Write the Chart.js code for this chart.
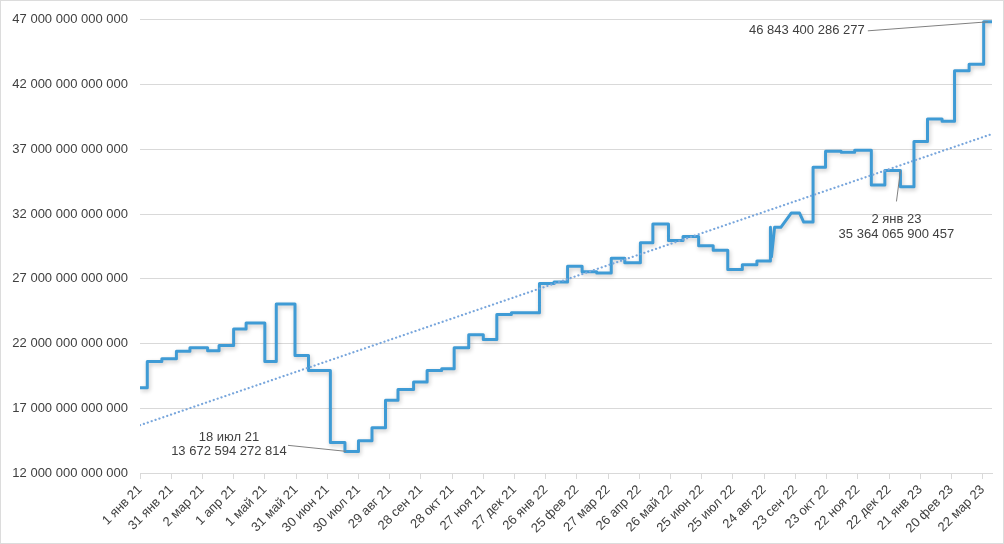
<!DOCTYPE html>
<html lang="ru">
<head>
<meta charset="utf-8">
<script src="https://cdn.jsdelivr.net/npm/chart.js@4/dist/chart.umd.min.js"></script>
<style>
  html, body { margin: 0; padding: 0; background: #fff; }
  #wrap { position: relative; width: 1004px; height: 544px; }
  #frame { position: absolute; left: 0; top: 0; right: 0; bottom: 0; border: 1px solid #dcdcdc; pointer-events: none; }
</style>
</head>
<body>
<div id="wrap">
  <canvas id="chart" width="1004" height="544"></canvas>
  <div id="frame"></div>
</div>
<script>
// x tick labels, one every 30 days from 1 Jan 2021
const tickLabels = [
    "1 янв 21", "31 янв 21", "2 мар 21", "1 апр 21", "1 май 21", "31 май 21", "30 июн 21",
    "30 июл 21", "29 авг 21", "28 сен 21", "28 окт 21", "27 ноя 21", "27 дек 21", "26 янв 22",
    "25 фев 22", "27 мар 22", "26 апр 22", "26 май 22", "25 июн 22", "25 июл 22", "24 авг 22",
    "23 сен 22", "23 окт 22", "22 ноя 22", "22 дек 22", "21 янв 23", "20 фев 23", "22 мар 23"
];

// each level of the series: first day, last day, value
const levelStart = [
    "2021-01-01", "2021-01-08", "2021-01-22", "2021-02-05", "2021-02-18", "2021-03-07", "2021-03-18",
    "2021-04-01", "2021-04-13", "2021-05-01", "2021-05-12", "2021-05-30", "2021-06-12", "2021-07-03",
    "2021-07-17", "2021-07-30", "2021-08-12", "2021-08-25", "2021-09-06", "2021-09-21", "2021-10-04",
    "2021-10-18", "2021-10-30", "2021-11-13", "2021-11-27", "2021-12-10", "2021-12-24", "2022-01-20",
    "2022-02-03", "2022-02-16", "2022-03-02", "2022-03-16", "2022-03-30", "2022-04-12", "2022-04-27",
    "2022-05-09", "2022-05-24", "2022-06-07", "2022-06-22", "2022-07-06", "2022-07-20", "2022-08-03",
    "2022-08-17", "2022-08-30", "2022-08-31", "2022-09-03", "2022-09-19", "2022-10-01", "2022-10-10",
    "2022-10-22", "2022-11-06", "2022-11-19", "2022-12-05", "2022-12-18", "2023-01-02", "2023-01-15",
    "2023-01-28", "2023-02-11", "2023-02-23", "2023-03-09", "2023-03-23"
];
const levelEnd = [
    "2021-01-08", "2021-01-22", "2021-02-05", "2021-02-18", "2021-03-07", "2021-03-18", "2021-04-01",
    "2021-04-13", "2021-05-01", "2021-05-12", "2021-05-30", "2021-06-12", "2021-07-03", "2021-07-17",
    "2021-07-30", "2021-08-12", "2021-08-25", "2021-09-06", "2021-09-21", "2021-10-04", "2021-10-18",
    "2021-10-30", "2021-11-13", "2021-11-27", "2021-12-10", "2021-12-24", "2022-01-20", "2022-02-03",
    "2022-02-16", "2022-03-02", "2022-03-16", "2022-03-30", "2022-04-12", "2022-04-27", "2022-05-09",
    "2022-05-24", "2022-06-07", "2022-06-22", "2022-07-06", "2022-07-20", "2022-08-03", "2022-08-17",
    "2022-08-30", "2022-08-30", "2022-08-31", "2022-09-09", "2022-09-27", "2022-10-10", "2022-10-22",
    "2022-11-06", "2022-11-19", "2022-12-05", "2022-12-18", "2023-01-02", "2023-01-15", "2023-01-28",
    "2023-02-11", "2023-02-23", "2023-03-09", "2023-03-23", "2023-03-31"
];
const levelValue = [
    18.59e12, 20.62e12, 20.82e12, 21.41e12, 21.67e12, 21.44e12, 21.85e12,
    23.13e12, 23.59e12, 20.62e12, 25.05e12, 21.08e12, 19.92e12, 14.36e12,
    13.67e12, 14.50e12, 15.50e12, 17.62e12, 18.44e12, 19.03e12, 19.92e12,
    20.05e12, 21.67e12, 22.67e12, 22.31e12, 24.25e12, 24.37e12, 26.64e12,
    26.75e12, 27.97e12, 27.55e12, 27.45e12, 28.59e12, 28.24e12, 29.79e12,
    31.23e12, 29.95e12, 30.27e12, 29.55e12, 29.20e12, 27.72e12, 28.08e12,
    28.38e12, 30.97e12, 28.70e12, 30.97e12, 32.07e12, 31.38e12, 35.62e12,
    36.84e12, 36.77e12, 36.93e12, 34.25e12, 35.36e12, 34.10e12, 37.60e12,
    39.33e12, 39.17e12, 43.06e12, 43.57e12, 46.84e12
];

// linear trend line end points
const trendDates = ["2021-01-01", "2023-03-31"];
const trendValues = [15.69e12, 38.18e12];

// labelled points
const noteDates = ["2021-07-18", "2023-01-02", "2023-03-27"];
const noteValues = [13672594272814, 35364065900457, 46843400286277];
const noteTexts = [["18 июл 21", "13 672 594 272 814"], ["2 янв 23", "35 364 065 900 457"], ["46 843 400 286 277"]];

const t0 = Date.UTC(2021, 0, 1);
function dayOf(s) {
    return (Date.parse(s) - t0) / 864e5;
}
function spaced(v) {
    return String(Math.round(v)).replace(/\B(?=(\d{3})+(?!\d))/g, " ");
}

const linePoints = [];
levelStart.forEach((s, i) => {
    linePoints.push({ x: dayOf(s), y: levelValue[i] });
    if (levelEnd[i] !== s) linePoints.push({ x: dayOf(levelEnd[i]), y: levelValue[i] });
});
const trendPoints = trendDates.map((d, i) => ({ x: dayOf(d), y: trendValues[i] }));

const FONT = "'Liberation Sans', Arial, sans-serif";
const TEXT = "#404040";
const GRID = "#d9d9d9";

const shadowPlugin = {
    id: "lineShadow",
    beforeDatasetDraw(chart, args) {
        if (args.index !== 1) return;
        const ctx = chart.ctx;
        ctx.save();
        ctx.shadowColor = "rgba(0,0,0,0.22)";
        ctx.shadowBlur = 4;
        ctx.shadowOffsetX = 1;
        ctx.shadowOffsetY = 2;
    },
    afterDatasetDraw(chart, args) {
        if (args.index !== 1) return;
        chart.ctx.restore();
    }
};

// label offsets from the point, in px: text centre, first line y, leader start
const noteLayout = [
    { tx: -117, ty: -14, lx: -58, ly: -6 },
    { tx: -4, ty: 49, lx: -4, ly: 31 },
    { tx: -181, ty: 9, lx: -120, ly: 9 }
];

const notePlugin = {
    id: "notes",
    afterDatasetsDraw(chart) {
        const ctx = chart.ctx;
        const xs = chart.scales.x, ys = chart.scales.y;
        ctx.save();
        ctx.font = "13px " + FONT;
        ctx.fillStyle = TEXT;
        ctx.textAlign = "center";
        ctx.textBaseline = "middle";
        noteDates.forEach((d, i) => {
            const px = xs.getPixelForValue(dayOf(d));
            const py = ys.getPixelForValue(noteValues[i]);
            const L = noteLayout[i];
            ctx.strokeStyle = "#808080";
            ctx.lineWidth = 1;
            ctx.beginPath();
            ctx.moveTo(px + L.lx, py + L.ly);
            ctx.lineTo(px, py);
            ctx.stroke();
            noteTexts[i].forEach((t, k) => {
                ctx.fillText(t, px + L.tx, py + L.ty + k * 14.5);
            });
        });
        ctx.restore();
    }
};

new Chart(document.getElementById("chart"), {
    type: "line",
    data: {
        datasets: [
            {
                label: "Тренд",
                data: trendPoints,
                borderColor: "#78a6dc",
                borderWidth: 2.2,
                borderDash: [0.1, 4],
                borderCapStyle: "round",
                pointRadius: 0,
                fill: false
            },
            {
                label: "Сложность",
                data: linePoints,
                borderColor: "#3f9bd5",
                borderWidth: 3,
                borderJoinStyle: "round",
                pointRadius: 0,
                tension: 0,
                fill: false
            }
        ]
    },
    options: {
        responsive: false,
        animation: false,
        devicePixelRatio: 1,
        layout: { padding: { left: 0, right: 12, top: 18, bottom: 0 } },
        plugins: {
            legend: { display: false },
            tooltip: { enabled: false }
        },
        scales: {
            x: {
                type: "linear",
                min: 0,
                max: 819,
                afterFit(scale) { scale.height = 71; },
                border: { color: GRID },
                grid: { drawOnChartArea: false, drawTicks: true, tickLength: 6, color: GRID },
                ticks: {
                    stepSize: 30,
                    includeBounds: false,
                    autoSkip: false,
                    minRotation: 45,
                    maxRotation: 45,
                    padding: 3,
                    color: TEXT,
                    font: { family: FONT, size: 13 },
                    callback: v => tickLabels[v / 30]
                }
            },
            y: {
                min: 12e12,
                max: 47e12,
                afterFit(scale) { scale.width = 140; },
                border: { display: false },
                grid: { color: GRID, drawTicks: false },
                ticks: {
                    stepSize: 5e12,
                    padding: 12,
                    color: TEXT,
                    font: { family: FONT, size: 13 },
                    callback: v => spaced(v)
                }
            }
        }
    },
    plugins: [shadowPlugin, notePlugin]
});
</script>
</body>
</html>
